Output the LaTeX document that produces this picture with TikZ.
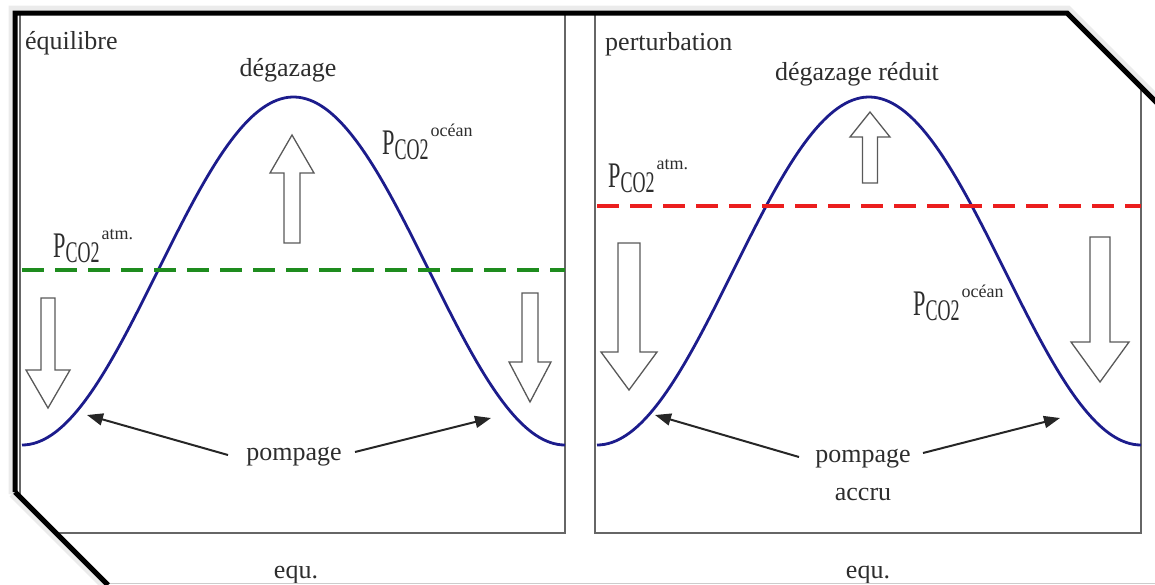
\documentclass[tikz,border=0pt]{standalone}
\usepackage{fontspec}
\setmainfont{Liberation Serif}
\usepackage{graphicx}
\usetikzlibrary{arrows.meta}
\definecolor{curveblue}{RGB}{28,28,140}
\definecolor{atmgreen}{RGB}{30,140,30}
\definecolor{atmred}{RGB}{235,30,30}
\definecolor{txt}{RGB}{45,45,45}
\newcommand{\pco}[1]{\scalebox{0.62}[1]{\fontsize{36}{36}\selectfont P}\raisebox{-5pt}{\scalebox{0.6}[1]{\fontsize{30}{30}\selectfont CO2}}\kern2pt\raisebox{18pt}{\fontsize{18}{18}\selectfont #1}}
\begin{document}
\begin{tikzpicture}[x=1pt,y=-1pt,
  lbl/.style={inner sep=0pt, text=txt, font=\fontsize{26}{30}\selectfont},
  plbl/.style={inner sep=0pt, anchor=base west, text=txt},
  panel/.style={draw=black!60, line width=1.5pt},
  wave/.style={draw=curveblue, line width=2.8pt},
  atmline/.style={line width=4pt, dash pattern=on 22pt off 11pt},
  blockarrow/.style={draw=black!65, line width=1.3pt, fill=white},
  pomparrow/.style={draw=black!85, line width=2pt, -{Triangle[length=16pt,width=12pt]}},
  frame/.style={draw=black, line width=5pt, line join=miter},
  shadow/.style={draw=black!8, line width=7pt}
]
\useasboundingbox (0,0) rectangle (1155,584);

% panels
\draw[panel] (20,13) rectangle (565,533);
\draw[panel] (595,13) rectangle (1141,533);

% curves
\draw[wave] plot[domain=22:565, samples=150, smooth] (\x, {271+174*cos(0.66298*(\x-22))});
\draw[wave] plot[domain=597:1141, samples=150, smooth] (\x, {271+174*cos(0.66176*(\x-597))});

% atmospheric levels
\draw[atmline, atmgreen] (22,270) -- (565,270);
\draw[atmline, atmred] (597,206) -- (1141,206);

% block arrows panel 1
\draw[blockarrow] (284,243)--(284,173)--(270,173)--(292,135)--(314,173)--(300,173)--(300,243)--cycle;
\draw[blockarrow] (41,298)--(41,370)--(26,370)--(48,408)--(70,370)--(55,370)--(55,298)--cycle;
\draw[blockarrow] (522,293)--(522,362)--(509,362)--(530,402)--(551,362)--(538,362)--(538,293)--cycle;
% block arrows panel 2
\draw[blockarrow] (862.5,183)--(862.5,137)--(850,137)--(870,112)--(890,137)--(877.5,137)--(877.5,183)--cycle;
\draw[blockarrow] (618,243)--(618,352)--(601,352)--(629,390)--(657,352)--(640,352)--(640,243)--cycle;
\draw[blockarrow] (1090,237)--(1090,342)--(1071,342)--(1100,382)--(1129,342)--(1110,342)--(1110,237)--cycle;

% texts
\node[lbl, anchor=base west] (eq) at (25,49) {équilibre};
\node[lbl, anchor=base] (deg1) at (288,76) {dégazage};
\node[lbl, anchor=base west] (pert) at (605,50) {perturbation};
\node[lbl, anchor=base] (deg2) at (857,80) {dégazage réduit};
\node[lbl, anchor=base] (pomp1) at (294,460) {pompage};
\node[lbl, anchor=base] (pomp2) at (863,462) {pompage};
\node[lbl, anchor=base] (accru) at (863,500) {accru};
\node[lbl, anchor=base] (equ1) at (296,578) {equ.};
\node[lbl, anchor=base] (equ2) at (868,578) {equ.};

\node[plbl] (p1atm) at (53,257) {\pco{atm.}};
\node[plbl] (p1oc) at (382,154) {\pco{océan}};
\node[plbl] (p2atm) at (608,187) {\pco{atm.}};
\node[plbl] (p2oc) at (913,315) {\pco{océan}};

% pompage arrows
\coordinate (s1l) at (228,455);
\coordinate (t1l) at (87,415);
\coordinate (s1r) at (355,452);
\coordinate (t1r) at (491,418);
\coordinate (s2l) at (799,457);
\coordinate (t2l) at (655,415);
\coordinate (s2r) at (923,453);
\coordinate (t2r) at (1060,418);
\draw[pomparrow] (s1l) -- (t1l);
\draw[pomparrow] (s1r) -- (t1r);
\draw[pomparrow] (s2l) -- (t2l);
\draw[pomparrow] (s2r) -- (t2r);

% cut corners and outer frame
\fill[white] (12,489) -- (12,600) -- (118,600) -- cycle;
\fill[white] (1064,9) -- (1170,9) -- (1170,115) -- cycle;
\draw[black!20, line width=1pt] (100,583) -- (1155,583);
\draw[shadow] (12,494) -- (12,9) -- (1068,9) -- (1162,103);
\draw[shadow] (12,494) -- (105,587);
\draw[frame] (15,492) -- (15,13) -- (1067,13) -- (1160,106);
\draw[frame] (15,492) -- (108,585);
\end{tikzpicture}
\end{document}
